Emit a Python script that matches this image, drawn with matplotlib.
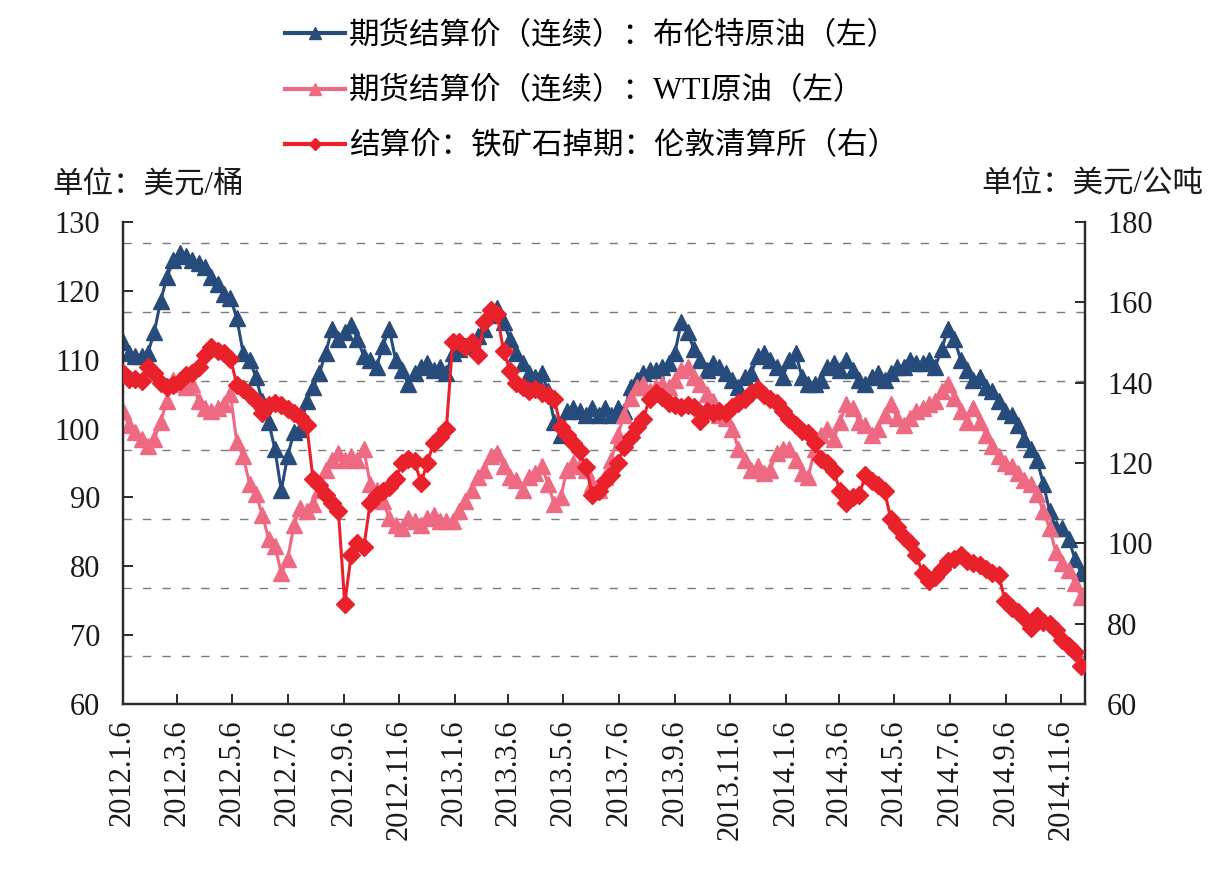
import numpy as np
import pandas as pd
import matplotlib
matplotlib.use("Agg")
from matplotlib import pyplot as plt
from matplotlib.lines import Line2D

plt.rcParams['font.family'] = ['Liberation Serif', 'Noto Sans CJK SC', 'DejaVu Sans']

# weekly readings (Fridays) from 2012-01-06
dates = pd.date_range('2012-01-06', periods=152, freq='7D')

brent = [112.5, 111, 110.5, 110.5, 111, 114, 118.5, 122, 124.5, 125.5,
         125, 124.5, 124, 123.5, 122, 121, 119.5, 119, 116, 111,
         110, 107.5, 104, 101, 97, 91, 96, 99.5, 100, 104,
         106, 108, 111, 114.5, 113, 114, 115, 113, 110.5, 110,
         109, 112, 114.5, 110, 108.5, 106.5, 108, 109, 109.5, 108.5,
         109, 108, 111, 111.5, 112, 112.5, 113.5, 114.5, 116.5, 117.5,
         115.5, 113, 111, 109.5, 108, 107.5, 108, 105.5, 101, 99,
         102.5, 103, 102.5, 102, 103, 102, 103, 102, 103, 102.5,
         106, 107, 108, 108.5, 108.5, 109, 109.5, 111, 115.5, 114,
         111.5, 110, 108.5, 109.5, 109, 108, 107, 106, 107.5, 108,
         110.5, 111, 110, 109, 107.5, 110, 111, 107.5, 106.5, 106.5,
         107, 109, 109.5, 108.5, 110, 108.5, 107, 106.5, 107.5, 108,
         107, 108, 109, 109, 110, 109.5, 109.5, 110, 109, 111.5,
         114.5, 113, 110, 108.5, 107, 107.5, 106, 105.5, 104, 102.5,
         102, 100.5, 98.5, 97, 95.5, 92, 88, 85.5, 85.5, 84,
         81, 79]

wti = [102.5, 100.5, 99.5, 98.5, 97.5, 98.5, 101, 104, 107, 106.5,
       106, 106.5, 104, 103, 102.5, 103, 103.5, 105, 98, 96,
       92, 90.5, 87.5, 84, 83, 79, 81, 86, 88.5, 88,
       89, 91, 94, 95.5, 96.5, 95.5, 96, 95.5, 97, 92,
       91, 89.5, 87, 86, 85.5, 87, 86.5, 86, 87, 87.5,
       86.5, 86.5, 86.5, 88, 89.5, 91, 93, 94, 96, 96.5,
       94.5, 93, 92.5, 91, 93, 93.5, 94.5, 92, 89, 90,
       94, 95, 94.5, 94, 92, 91, 93, 95.5, 99, 102,
       104.5, 106, 106.5, 105.5, 106, 106.5, 106, 107, 108.5, 109,
       107.5, 106.5, 105, 104, 102, 101.5, 100, 97, 95.5, 94,
       94.5, 93.5, 94, 96.5, 97, 97, 95.5, 93.5, 93, 97,
       99, 100, 98.5, 101, 103.5, 103, 101, 100.5, 99, 100,
       102, 103.5, 101.5, 100.5, 101.5, 102.5, 103, 103.5, 104, 105.5,
       106.5, 104.5, 102.5, 101, 103, 101, 99, 97.5, 96, 95,
       94.5, 93.5, 92.5, 92, 90.5, 88, 85.5, 82, 80.5, 79.5,
       77.5, 75.5]

iron_ore = [142.5, 141, 141, 140.5, 144, 142.5, 140, 139, 139.5, 140.5,
            142, 142.5, 144, 147, 149, 148, 147.5, 146, 139.5, 138.5,
            137, 135.5, 132.5, 134.5, 135, 134.5, 133.5, 132.5, 131.5, 129.5,
            116, 114.5, 112, 110, 108, 85, 97, 100, 99, 110,
            112, 113, 114, 116, 120, 121, 120.5, 115, 120, 125,
            126.5, 128.5, 150, 150, 149, 150, 147, 155, 158, 157,
            148, 143, 140, 139, 138, 138.5, 137.5, 137, 136, 129,
            127, 125, 123, 119, 112, 113, 115.5, 117, 120, 124,
            126.5, 129, 131, 136, 137.5, 136.5, 135, 134.5, 134, 134.5,
            134, 130.5, 133, 132.5, 133, 132.5, 134, 135, 136, 137.5,
            138.5, 137, 136, 135, 133, 131, 129.5, 128, 127.5, 125,
            121, 120, 118, 113, 110, 111.5, 112, 117, 115.5, 114.5,
            113, 106, 104, 101.5, 100, 97, 92.5, 90.5, 91.5, 93.5,
            95.5, 96, 97, 95.5, 95, 94.5, 93.5, 92.5, 92, 85.5,
            84, 83, 81.5, 79, 82, 80.5, 80, 78.5, 76, 74.5,
            73, 69.5]

tick_dates = pd.date_range('2012-01-01', '2014-11-01', freq='2MS') + pd.Timedelta(days=5)
tick_labels = [f"{d.year}.{d.month}.{d.day}" for d in tick_dates]

names = ['期货结算价（连续）：布伦特原油（左）',
         '期货结算价（连续）：WTI原油（左）',
         '结算价：铁矿石掉期：伦敦清算所（右）']

c_brent = '#274b7a'
c_wti = '#ee6a83'
c_ore = '#e8212b'
axis_col = '#2b2b2b'

fig = plt.figure(figsize=(12.3, 8.69), dpi=100)
ax = fig.add_axes([0.0996, 0.19, 0.7825, 0.5545])
ax2 = ax.twinx()

ax.plot(dates, brent, color=c_brent, lw=2.2, marker='^', ms=12, mec=c_brent, zorder=3)
ax.plot(dates, wti, color=c_wti, lw=2.2, marker='^', ms=12, mec=c_wti, zorder=4)
ax2.plot(dates, iron_ore, color=c_ore, lw=2.2, marker='D', ms=9, mec=c_ore, zorder=5)

for g in np.arange(66.9, 128, 10):
    ax.axhline(g, color='#7a7a7a', lw=1.0, ls=(0, (6, 8)), zorder=1)

ax.set_ylim(60, 130)
ax.set_yticks(np.arange(60, 131, 10))
ax2.set_ylim(60, 180)
ax2.set_yticks(np.arange(60, 181, 20))
ax.set_xlim(pd.Timestamp('2012-01-06'), pd.Timestamp('2014-12-02'))
ax.set_xticks(tick_dates)
ax.set_xticklabels(tick_labels, rotation=90)

for a in (ax, ax2):
    a.spines['top'].set_visible(False)
    for s in ('left', 'right', 'bottom'):
        a.spines[s].set_color(axis_col)
        a.spines[s].set_linewidth(1.6)
    a.tick_params(direction='in', length=7, width=1.4, color=axis_col,
                  labelsize=22, labelcolor='#1a1a1a')
ax.tick_params(axis='y', pad=16)
ax.tick_params(axis='x', pad=11)
ax2.tick_params(axis='y', pad=16)
ax2.patch.set_visible(False)

fig.text(52 / 1230, 1 - 185 / 869, '单位：美元/桶', fontsize=22, va='center', ha='left', color='#1a1a1a')
fig.text(1203 / 1230, 1 - 185 / 869, '单位：美元/公吨', fontsize=22, va='center', ha='right', color='#1a1a1a')

handles = [Line2D([], [], color=c_brent, lw=3, marker='^', ms=8),
           Line2D([], [], color=c_wti, lw=3, marker='^', ms=8),
           Line2D([], [], color=c_ore, lw=3, marker='D', ms=6)]
fig.legend(handles, names, loc='upper left', bbox_to_anchor=(285 / 1230, 1 - 22 / 869),
           frameon=False, fontsize=22, handlelength=1.95, handletextpad=0.15,
           labelspacing=0.85, borderpad=0, borderaxespad=0)

fig.savefig('out.png', dpi=100)
